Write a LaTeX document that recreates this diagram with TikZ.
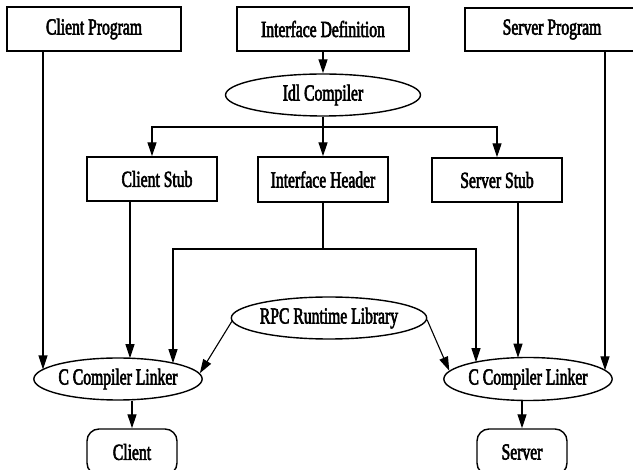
\documentclass[tikz,border=0pt]{standalone}
\usepackage{fontspec}
\setmainfont{Liberation Serif}[FakeStretch=0.68,FakeBold=2.5]
\usetikzlibrary{shapes.geometric,arrows.meta,intersections}
\newcommand\vdrop[4]{%
  \path[name path=vp#4] (#2,0) -- (#2,-470);
  \draw[arr, name intersections={of=vp#4 and #3, sort by=vp#4, by={#4}}] (#1 -| #4) -- (#4);}
\begin{document}
\begin{tikzpicture}[x=1pt,y=1pt,
  font=\fontsize{23}{26}\selectfont,
  box/.style={draw, line width=1.4pt, inner sep=0pt},
  rbox/.style={draw, line width=1.4pt, rounded corners=12pt, inner sep=0pt},
  ell/.style={draw, ellipse, line width=1.4pt, inner sep=0pt},
  ln/.style={line width=1.1pt},
  arr/.style={line width=1.1pt, -{Triangle[length=14pt,width=9pt]}}]
\useasboundingbox (0,0) rectangle (633,-470);

\node[box, minimum width=174, minimum height=44] (cprog) at (94,-29) {Client Program};
\node[box, minimum width=172, minimum height=44] (idef) at (323,-29) {Interface Definition};
\node[box, minimum width=174, minimum height=43] (sprog) at (552,-29.5) {Server Program};
\node[ell, minimum width=195, minimum height=42] (idl) at (323,-95) {Idl Compiler};
\node[box, minimum width=130, minimum height=44] (cstub) at (152,-179) {\hspace*{10pt}Client Stub};
\node[box, minimum width=130, minimum height=45] (ihead) at (323,-179.5) {Interface Header};
\node[box, minimum width=130, minimum height=44] (sstub) at (497,-180) {Server Stub};
\node[ell, minimum width=165, minimum height=42] (rpc) at (329,-318) {RPC Runtime Library};
\node[ell, minimum width=166, minimum height=42, name path=e1] (ccl1) at (118,-379) {C Compiler Linker};
\node[ell, minimum width=166, minimum height=43, name path=e2] (ccl2) at (528,-379) {C Compiler Linker};
\node[rbox, minimum width=90, minimum height=46] (client) at (132,-452) {Client};
\node[rbox, minimum width=90, minimum height=46] (server) at (522,-452) {Server};

% Idl compiler
\draw[arr] (idef.south) -- (idl.north);
\coordinate (j) at (323,-127);
\draw[ln] (idl.south) -- (j);
\draw[arr] (j) -- (ihead.north);
\draw[arr] (j) -| (cstub.north);
\draw[arr] (j) -| (sstub.north);

% to compiler linkers
\vdrop{cprog.south}{43}{e1}{p1}
\vdrop{cstub.south}{130}{e1}{p2}
\vdrop{sstub.south}{518}{e2}{p5}
\vdrop{sprog.south}{605}{e2}{p6}

\coordinate (k) at (323,-249);
\draw[ln] (ihead.south) -- (k);
\path[name path=vq1] (173,0) -- (173,-470);
\path[name path=vq2] (476,0) -- (476,-470);
\draw[arr, name intersections={of=vq1 and e1, sort by=vq1, by={q1}}] (k) -| (q1);
\draw[arr, name intersections={of=vq2 and e2, sort by=vq2, by={q2}}] (k) -| (q2);

% runtime library
\draw[arr] (rpc.182) -- (ccl1.4);
\draw[arr] (rpc.-1) -- (ccl2.174);

% outputs
\draw[arr] (client.north |- ccl1.south) -- (client.north);
\draw[arr] (server.north |- ccl2.south) -- (server.north);
\end{tikzpicture}
\end{document}
